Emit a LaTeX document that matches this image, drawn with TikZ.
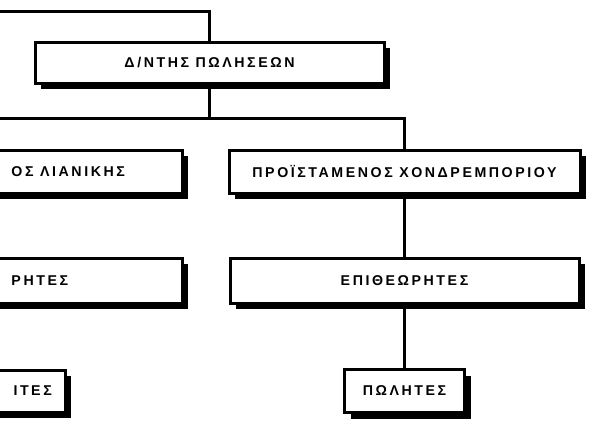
\documentclass[tikz,border=0pt]{standalone}
\usepackage{fontspec}
\newfontfamily\orgfont{Liberation Sans}[LetterSpace=18]
\usepackage{tikz}
\usetikzlibrary{shadows}

\begin{document}
\begin{tikzpicture}[x=1pt, y=-1pt, line width=3pt,
    font=\orgfont\bfseries\fontsize{14.2}{16}\selectfont,
    box/.style={draw, fill=white, inner sep=0pt, minimum height=43pt,
      drop shadow={fill=black, opacity=1, shadow xshift=6pt, shadow yshift=-6pt}},
    cut/.style={anchor=west, inner sep=0pt}]
  \useasboundingbox (0,0) rectangle (589,421);
  \coordinate (topin) at (0,11);
  \coordinate (leftout) at (0,118);

  % sales director
  \node[box, minimum width=349pt, minimum height=41pt] (dir) at (209.5,62.5) {Δ/ΝΤΗΣ ΠΩΛΗΣΕΩΝ};

  % retail side (cut off on the left)
  \node[box, minimum width=351pt] (retail) at (6.5,171.5) {};
  \node[cut] (retailtxt) at (10,171.5) {ΟΣ ΛΙΑΝΙΚΗΣ};
  \node[box, minimum width=351pt, minimum height=45pt] (rinsp) at (6.5,280.5) {};
  \node[cut] (rinsptxt) at (10,280.5) {ΡΗΤΕΣ};
  \node[box, minimum width=120pt, minimum height=42pt] (rsales) at (5,391) {};
  \node[cut] (rsalestxt) at (12,391) {ΙΤΕΣ};

  % wholesale side
  \node[box, minimum width=351pt] (whole) at (404.5,171.5) {ΠΡΟΪΣΤΑΜΕΝΟΣ ΧΟΝΔΡΕΜΠΟΡΙΟΥ};
  \node[box, minimum width=349pt, minimum height=45pt] (insp) at (404.5,280.5) {ΕΠΙΘΕΩΡΗΤΕΣ};
  \node[box, minimum width=120pt, minimum height=43pt] (sales) at (404.5,391) {ΠΩΛΗΤΕΣ};

  \draw (topin) -| (dir.north);
  \draw (dir.south) -- (dir.south |- leftout);
  \draw (leftout) -| (whole.north);
  \draw (whole.south) -- (insp.north);
  \draw (insp.south) -- (sales.north);
\end{tikzpicture}
\end{document}
